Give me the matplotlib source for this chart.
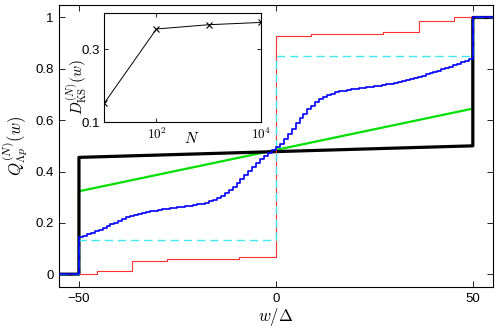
import numpy as np
import matplotlib
matplotlib.use("Agg")
import matplotlib.pyplot as plt
from matplotlib.ticker import FixedLocator, NullLocator, FixedFormatter

plt.rcParams['font.family'] = ['Liberation Sans', 'DejaVu Sans']
plt.rcParams['mathtext.fontset'] = 'cm'
plt.rcParams['font.size'] = 9

# ---- data ----
black_w = [-55, -50, -50, 50, 50, 55]
black_q = [0.0, 0.0, 0.455, 0.500, 1.0, 1.0]

green_w = [-55, -50, -50, 50, 50, 55]
green_q = [0.0, 0.0, 0.323, 0.645, 1.0, 1.0]

red_w = [-55, -50, -45.5, -36.6, -27.6, -9.3, 0, 8.9, 27.1, 36.4, 45.3, 50, 55]
red_q = [0.0, 0.002, 0.011, 0.052, 0.059, 0.066, 0.929, 0.935, 0.942, 0.985, 1.0, 1.0, 1.0]

cyan_w = [-55, -50, 0, 50, 55]
cyan_q = [0.0, 0.133, 0.850, 1.0, 1.0]

blue_w = list(range(-50, 50))
blue_q = [0.144, 0.149, 0.155, 0.161, 0.167, 0.173, 0.180, 0.187, 0.194, 0.200,
          0.207, 0.214, 0.221, 0.227, 0.232, 0.236, 0.240, 0.243, 0.246, 0.248,
          0.250, 0.252, 0.254, 0.256, 0.258, 0.260, 0.262, 0.264, 0.266, 0.269,
          0.272, 0.275, 0.279, 0.284, 0.290, 0.297, 0.305, 0.315, 0.327, 0.340,
          0.354, 0.369, 0.385, 0.401, 0.417, 0.432, 0.447, 0.460, 0.472, 0.484,
          0.494, 0.509, 0.527, 0.547, 0.567, 0.587, 0.607, 0.625, 0.642, 0.657,
          0.670, 0.681, 0.690, 0.697, 0.703, 0.708, 0.712, 0.715, 0.718, 0.721,
          0.723, 0.725, 0.727, 0.729, 0.731, 0.733, 0.735, 0.737, 0.739, 0.742,
          0.745, 0.748, 0.751, 0.755, 0.759, 0.763, 0.768, 0.773, 0.778, 0.783,
          0.788, 0.793, 0.798, 0.803, 0.808, 0.813, 0.819, 0.825, 0.831, 0.837]

inset_N = [10, 100, 1000, 10000]
inset_D = [0.133, 0.406, 0.433, 0.448]

xticks = [-50, 0, 50]
yticks = [0, 0.2, 0.4, 0.6, 0.8, 1]
inset_xticks = [1e2, 1e4]
inset_xticklabels = [r'$10^2$', r'$10^4$']
inset_yticks = [0.1, 0.3]
inset_yticklabels = ['0.1', '0.3']

# ---- figure ----
fig = plt.figure(figsize=(4.98, 3.32), dpi=100)
ax = fig.add_axes([0.119, 0.1355, 0.870, 0.8505])

ax.plot(green_w, green_q, color='#00e000', lw=1.6, zorder=2)
ax.plot(black_w, black_q, color='black', lw=2.3, zorder=3)
ax.step(red_w, red_q, where='post', color='#ff3030', lw=0.8, zorder=4)
ax.step(cyan_w, cyan_q, where='post', color='#40e8f0', lw=1.0,
        dashes=(6, 3.5), zorder=5)
bx = [-55] + blue_w + [50, 55]
by = [0.0] + blue_q + [1.0, 1.0]
ax.step(bx, by, where='post', color='#0000ff', lw=1.2, zorder=6)

ax.set_xlim(-55, 55)
ax.set_ylim(-0.05, 1.05)
ax.set_xticks(xticks)
ax.set_xticklabels(['\u221250', '0', '50'])
ax.set_yticks(yticks)
ax.set_yticklabels(['0', '0.2', '0.4', '0.6', '0.8', '1'])
ax.tick_params(direction='in', top=True, right=True, length=4, width=0.6,
               labelsize=9.5, pad=4)
for s in ax.spines.values():
    s.set_linewidth(0.8)
ax.set_xlabel(r'$w/\Delta$', fontsize=12, labelpad=1)
ax.set_ylabel(r'$Q^{(N)}_{\Lambda p}(w)$', fontsize=12, labelpad=4)

# ---- inset ----
axi = fig.add_axes([0.2095, 0.6325, 0.314, 0.3285])
axi.plot(inset_N, inset_D, color='black', lw=0.7, marker='x', ms=5, mew=0.8)
axi.set_xscale('log')
axi.set_yscale('log')
axi.set_xlim(10, 1e4)
axi.set_ylim(0.1, 0.517)
axi.xaxis.set_major_locator(FixedLocator(inset_xticks))
axi.xaxis.set_major_formatter(FixedFormatter(inset_xticklabels))
axi.xaxis.set_minor_locator(NullLocator())
axi.yaxis.set_major_locator(FixedLocator(inset_yticks))
axi.yaxis.set_major_formatter(FixedFormatter(inset_yticklabels))
axi.yaxis.set_minor_locator(NullLocator())
axi.tick_params(direction='in', top=True, right=True, length=3, width=0.6,
                labelsize=9.5, pad=3)
for s in axi.spines.values():
    s.set_linewidth(0.8)
axi.text(0.56, -0.15, r'$N$', transform=axi.transAxes, ha='center',
         va='center', fontsize=11)
axi.text(-0.175, 0.32, r'$D^{(N)}_{\rm KS}(w)$', transform=axi.transAxes,
         ha='center', va='center', rotation=90, fontsize=11)

fig.savefig('out.png', dpi=100)
